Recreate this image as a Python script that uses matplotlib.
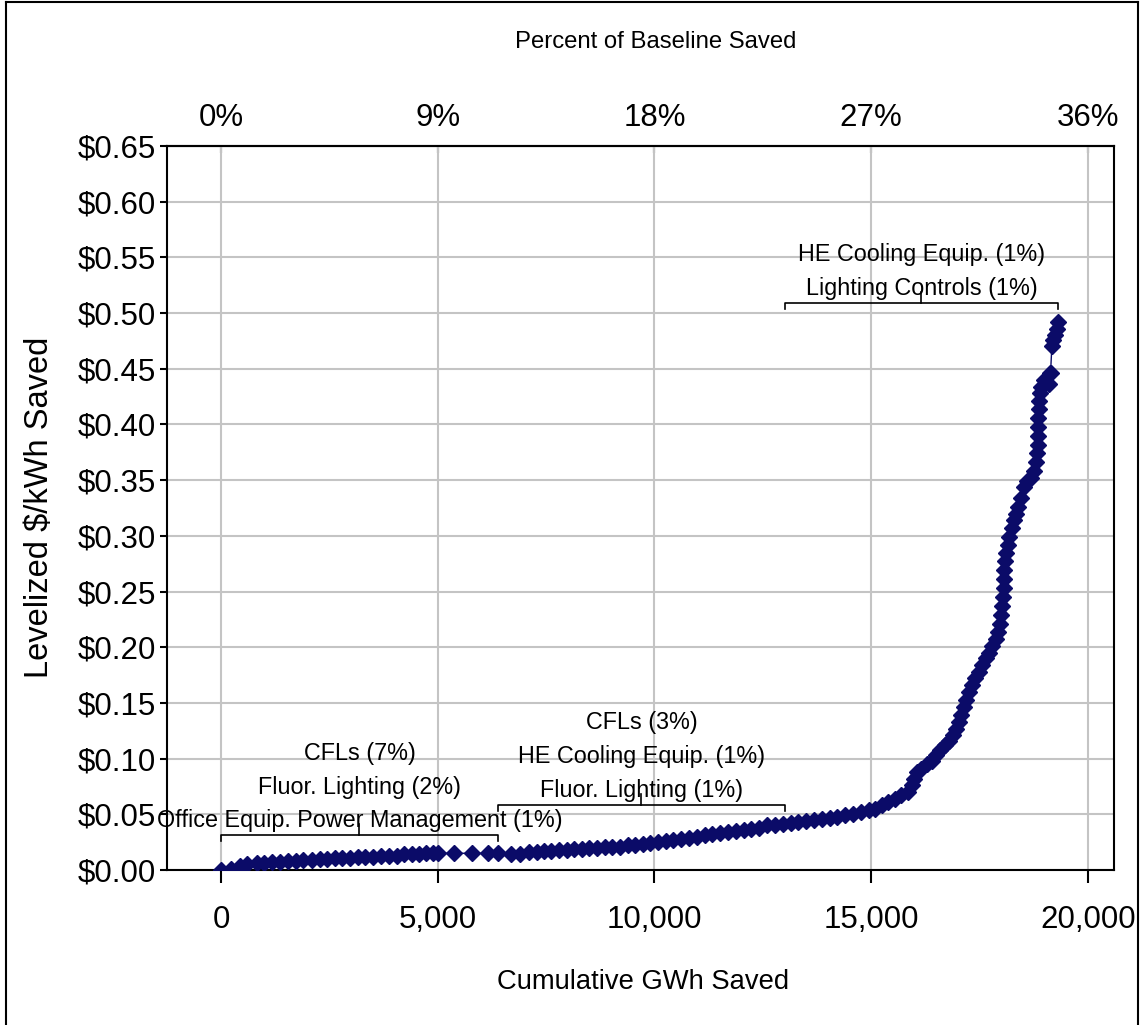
import numpy as np
import matplotlib.pyplot as plt
from matplotlib import font_manager
from matplotlib.lines import Line2D

# cumulative savings (GWh) and levelized cost ($/kWh)
gwh = [0, 220, 430, 600, 820, 1000, 1180, 1370, 1550, 1720, 1900, 2100, 2280,
       2450, 2620, 2800, 2980, 3150, 3330, 3500, 3700, 3880, 4050, 4230, 4400,
       4560, 4720, 4880, 5000, 5380, 5790, 6160, 6390, 6690, 6900, 7100, 7280,
       7450, 7620, 7800, 7980, 8150, 8320, 8500, 8680, 8850, 9020, 9200, 9380,
       9560, 9730, 9900, 10080, 10260, 10440, 10620, 10800, 10980, 11160, 11340,
       11520, 11700, 11880, 12060, 12240, 12420, 12600, 12780, 12960, 13140,
       13320, 13500, 13680, 13860, 14040, 14220, 14400, 14580, 14760, 14940,
       15100, 15250, 15400, 15550, 15700, 15850, 15950, 16000, 16050, 16150,
       16280, 16400, 16500, 16600, 16700, 16800, 16880, 16950, 17020, 17080,
       17140, 17200, 17260, 17320, 17400, 17480, 17560, 17640, 17720, 17800,
       17880, 17930, 17970, 18000, 18020, 18040, 18055, 18065, 18075, 18095,
       18120, 18150, 18190, 18240, 18290, 18340, 18400, 18460, 18520, 18600,
       18700, 18760, 18800, 18830, 18850, 18860, 18860, 18860, 18870, 18880,
       18900, 18920, 19000, 19120, 19110, 19140, 19170, 19200, 19240, 19280,
       19310]
cost = [0.000, 0.001, 0.004, 0.005, 0.006, 0.006, 0.007, 0.007, 0.008, 0.008,
        0.009, 0.009, 0.010, 0.010, 0.011, 0.011, 0.011, 0.012, 0.012, 0.012,
        0.013, 0.013, 0.013, 0.014, 0.014, 0.014, 0.015, 0.015, 0.015, 0.015,
        0.015, 0.015, 0.015, 0.014, 0.014, 0.016, 0.016, 0.017, 0.017, 0.018,
        0.018, 0.019, 0.019, 0.020, 0.020, 0.021, 0.021, 0.021, 0.022, 0.022,
        0.023, 0.024, 0.025, 0.026, 0.027, 0.028, 0.029, 0.030, 0.031, 0.032,
        0.033, 0.034, 0.035, 0.036, 0.037, 0.038, 0.040, 0.040, 0.041, 0.042,
        0.043, 0.044, 0.045, 0.046, 0.047, 0.048, 0.049, 0.050, 0.052, 0.054,
        0.055, 0.058, 0.061, 0.064, 0.067, 0.070, 0.076, 0.082, 0.088, 0.091,
        0.095, 0.098, 0.103, 0.108, 0.112, 0.116, 0.121, 0.127, 0.133, 0.139,
        0.146, 0.153, 0.160, 0.166, 0.172, 0.178, 0.184, 0.190, 0.195, 0.201,
        0.207, 0.214, 0.221, 0.229, 0.237, 0.245, 0.253, 0.261, 0.269, 0.277,
        0.285, 0.292, 0.299, 0.307, 0.314, 0.320, 0.326, 0.334, 0.344, 0.349,
        0.352, 0.358, 0.366, 0.374, 0.382, 0.390, 0.398, 0.406, 0.414, 0.421,
        0.428, 0.434, 0.440, 0.446, 0.436, 0.446, 0.470, 0.476, 0.480, 0.486,
        0.492]

baseline_gwh = 5000 / 0.09
x_ticks = [0, 5000, 10000, 15000, 20000]
pct_ticks = [0, 9, 18, 27, 36]
y_ticks = [0.00, 0.05, 0.10, 0.15, 0.20, 0.25, 0.30, 0.35, 0.40, 0.45, 0.50, 0.55, 0.60, 0.65]

# measure groups: (start GWh, end GWh, labels top to bottom)
groups = [
    (0, 6390, ["CFLs (7%)", "Fluor. Lighting (2%)", "Office Equip. Power Management (1%)"]),
    (6390, 13010, ["CFLs (3%)", "HE Cooling Equip. (1%)", "Fluor. Lighting (1%)"]),
    (13010, 19310, ["HE Cooling Equip. (1%)", "Lighting Controls (1%)"]),
]
bracket_y = [0.031, 0.058, 0.509]

names = {f.name for f in font_manager.fontManager.ttflist}
if 'Liberation Sans Narrow' in names:
    narrow, nscale = 'Liberation Sans Narrow', 1.0
else:
    narrow, nscale = 'Liberation Sans', 0.82
plt.rcParams['font.family'] = 'Liberation Sans'

W, H = 1141, 1025
fig = plt.figure(figsize=(W / 100, H / 100), dpi=100)
ax = fig.add_axes([167 / W, (H - 870) / H, (1114 - 167) / W, (870 - 146) / H])

navy = '#0b0b68'
ax.plot(gwh, cost, color=navy, lw=1, marker='D', ms=8, mfc=navy, mec=navy, mew=1, zorder=3)

ax.set_xlim(-1246, 20604)
ax.set_ylim(0, 0.65)
ax.set_xticks(x_ticks)
ax.set_xticklabels([f'{v:,}' for v in x_ticks])
ax.set_yticks(y_ticks)
ax.set_yticklabels([f'${v:.2f}' for v in y_ticks])
ax.grid(True, color='#c4c4c4', lw=1.5, zorder=0)
ax.set_axisbelow(True)
for s in ax.spines.values():
    s.set_linewidth(1.5)
ax.tick_params(axis='x', direction='out', length=9, width=1.5, labelsize=22.5, pad=16)
ax.tick_params(axis='y', direction='out', length=5, width=1.5, labelsize=22.5, pad=3)

top = ax.secondary_xaxis('top', functions=(lambda g: g / baseline_gwh * 100,
                                           lambda p: p / 100 * baseline_gwh))
top.set_xticks(pct_ticks)
top.set_xticklabels([f'{p}%' for p in pct_ticks])
top.tick_params(direction='in', length=5, width=1.5, labelsize=22.5, pad=9)
top.spines['top'].set_linewidth(1.5)

fs = 20.5 * nscale
for (x0, x1, labels), by in zip(groups, bracket_y):
    xm = (x0 + x1) / 2
    ax.plot([x0, x0, x1, x1], [by - 0.005, by, by, by - 0.005], color='black', lw=1.2, zorder=4)
    ax.plot([xm, xm], [by, by + 0.010], color='black', lw=1.2, zorder=4)
    n = len(labels)
    for i, lab in enumerate(labels):
        ax.text(xm, by + 0.013 + (n - 1 - i) * 0.0305, lab, ha='center', va='center',
                fontsize=fs, family=narrow, zorder=5)

fig.text(656 / W, 1 - 42 / H, 'Percent of Baseline Saved', ha='center', va='center',
         fontsize=21 * nscale, family=narrow)
fig.text(643 / W, 1 - 982 / H, 'Cumulative GWh Saved', ha='center', va='center',
         fontsize=24 * nscale, family=narrow)
fig.text(40 / W, 1 - 507 / H, 'Levelized $/kWh Saved', ha='center', va='center',
         rotation=90, fontsize=23.5)

# outer frame (left, top, right)
for xs, ys in [([6 / W, 6 / W], [0, 1 - 2 / H]), ([6 / W, 1 - 3 / W], [1 - 2 / H, 1 - 2 / H]),
               ([1 - 3 / W, 1 - 3 / W], [1 - 2 / H, 0])]:
    fig.add_artist(Line2D(xs, ys, color='black', lw=1.5))

fig.savefig('out.png', dpi=100)
